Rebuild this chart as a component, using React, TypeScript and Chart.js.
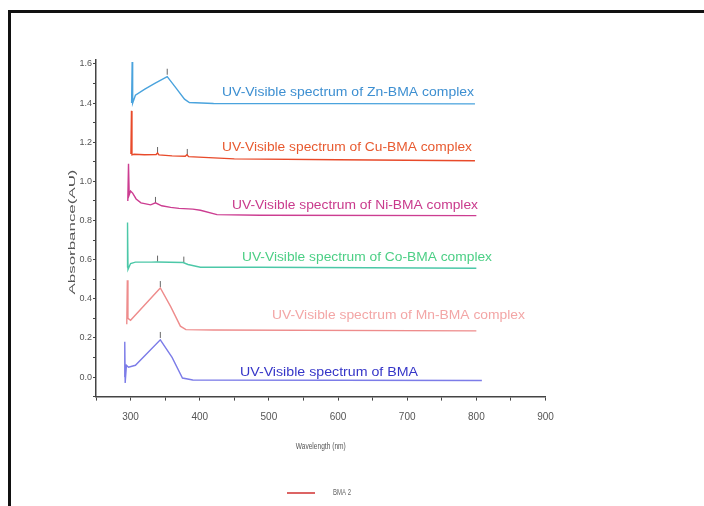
import React, { useEffect, useRef } from "react";
import { Chart, registerables } from "chart.js";

Chart.register(...registerables);

// ---- data (wavelength nm, absorbance AU) ----
const znWl = [301.5, 302.3, 303, 307, 320, 335, 353, 365, 378, 385, 420, 600, 798];
const znAbs = [1.4, 1.61, 1.4, 1.44, 1.47, 1.5, 1.535, 1.48, 1.42, 1.403, 1.398, 1.397, 1.396];

const cuWl = [300.5, 301.3, 302, 305, 320, 337, 339, 341, 360, 379, 381.5, 384, 450, 600, 798];
const cuAbs = [1.14, 1.36, 1.135, 1.138, 1.136, 1.137, 1.145, 1.135, 1.13, 1.128, 1.136, 1.126, 1.115, 1.11, 1.105];

const niWl = [296, 297, 298, 300, 303, 308, 315, 329, 336, 345, 358, 370, 390, 401, 425, 487, 800];
const niAbs = [0.9, 1.09, 0.93, 0.95, 0.94, 0.91, 0.89, 0.88, 0.89, 0.875, 0.867, 0.862, 0.858, 0.852, 0.83, 0.827, 0.825];

const coWl = [295, 295.6, 296.3, 300, 307, 330, 338, 376, 383, 401, 487, 800];
const coAbs = [0.56, 0.79, 0.55, 0.58, 0.587, 0.587, 0.588, 0.585, 0.575, 0.561, 0.561, 0.556];

const mnWl = [294.5, 295.3, 296.2, 300, 343, 358, 372, 380, 420, 800];
const mnAbs = [0.27, 0.495, 0.3, 0.29, 0.455, 0.36, 0.26, 0.242, 0.24, 0.236];

const bmaWl = [291, 291.6, 292.2, 294, 297, 307, 343, 360, 375, 390, 808];
const bmaAbs = [0.0, 0.18, -0.03, 0.06, 0.05, 0.06, 0.19, 0.1, -0.005, -0.015, -0.018];

const peakWl = [353, 339, 382, 336, 339, 377, 343, 343];
const peakAbs = [1.56, 1.16, 1.15, 0.905, 0.605, 0.6, 0.475, 0.215];

const seriesNames = ["Zn-BMA", "Cu-BMA", "Ni-BMA", "Co-BMA", "Mn-BMA", "BMA"];
const annotationTexts = [
  "UV-Visible spectrum of Zn-BMA complex",
  "UV-Visible spectrum of Cu-BMA complex",
  "UV-Visible spectrum of Ni-BMA complex",
  "UV-Visible spectrum of Co-BMA complex",
  "UV-Visible spectrum of Mn-BMA complex",
  "UV-Visible spectrum of BMA",
];
const xTitle = "Wavelength (nm)";
const yTitle = "Absorbance(AU)";
const legendLabel = "BMA 2";

// ---- styles / layout ----
const lineColors = ["#4aa3dd", "#e84a2a", "#cc3d91", "#4cc8a8", "#ee8c8c", "#7c7ce8"];
const textColors = ["#3d8fd1", "#e85a30", "#c93a8c", "#4ccf85", "#f3a6a6", "#3535c8"];
// [left x, center y, width]
const textBoxes = [
  [222, 93, 252],
  [222, 148, 250],
  [232, 206, 246],
  [242, 258, 250],
  [272, 316, 253],
  [240, 373, 178],
];
const TICK_FONT = "'Liberation Sans', Arial, sans-serif";

function toPts(xs: number[], ys: number[]) {
  return xs.map((x, i) => ({ x, y: ys[i] }));
}

function fitText(ctx: CanvasRenderingContext2D, text: string, x: number, y: number, width: number, font: string, color: string, align: "left" | "center" = "left", rot = 0) {
  ctx.save();
  ctx.font = font;
  ctx.fillStyle = color;
  ctx.textBaseline = "middle";
  ctx.textAlign = align;
  const w = ctx.measureText(text).width;
  ctx.translate(x, y);
  if (rot) ctx.rotate(rot);
  ctx.scale(width / w, 1);
  ctx.fillText(text, 0, 0);
  ctx.restore();
}

const overlayPlugin = {
  id: "overlay",
  afterDraw(chart: any) {
    const ctx = chart.ctx as CanvasRenderingContext2D;
    annotationTexts.forEach((t, i) => {
      const [x, y, w] = textBoxes[i];
      fitText(ctx, t, x, y, w, "12px 'Liberation Sans', Arial, sans-serif", textColors[i]);
    });
    const area = chart.chartArea;
    fitText(ctx, xTitle, (area.left + area.right) / 2, 447, 50, "9px 'Liberation Sans', Arial, sans-serif", "#555", "center");
    fitText(ctx, yTitle, 73, 232, 125, "9px 'Liberation Sans', Arial, sans-serif", "#555", "center", -Math.PI / 2);
    // legend
    ctx.save();
    ctx.strokeStyle = "#d03030";
    ctx.lineWidth = 1.5;
    ctx.beginPath();
    ctx.moveTo(287, 493);
    ctx.lineTo(315, 493);
    ctx.stroke();
    ctx.restore();
    fitText(ctx, legendLabel, 333, 493, 18, "9px 'Liberation Sans', Arial, sans-serif", "#666");
  },
};

export default function App() {
  const ref = useRef<HTMLCanvasElement | null>(null);

  useEffect(() => {
    if (!ref.current) return;
    const seriesData = [
      toPts(znWl, znAbs),
      toPts(cuWl, cuAbs),
      toPts(niWl, niAbs),
      toPts(coWl, coAbs),
      toPts(mnWl, mnAbs),
      toPts(bmaWl, bmaAbs),
    ];
    const datasets: any[] = seriesData.map((d, i) => ({
      label: seriesNames[i],
      data: d,
      showLine: true,
      borderColor: lineColors[i],
      backgroundColor: lineColors[i],
      borderWidth: 1.4,
      pointRadius: 0,
      tension: 0,
    }));
    datasets.push({
      label: "peaks",
      data: toPts(peakWl, peakAbs),
      showLine: false,
      pointStyle: "line",
      rotation: 90,
      pointRadius: 3,
      borderColor: "#666",
      borderWidth: 1,
    });

    const chart = new Chart(ref.current, {
      type: "scatter",
      data: { datasets },
      options: {
        animation: false,
        responsive: false,
        layout: { padding: { top: 60, right: 158.5, bottom: 49.4, left: 0 } },
        plugins: { legend: { display: false }, tooltip: { enabled: false } },
        scales: {
          x: {
            type: "linear",
            min: 250,
            max: 900,
            afterFit: (s: any) => {
              s.height = 60;
            },
            border: { display: true, color: "#444", width: 1.5 },
            grid: { drawOnChartArea: false, drawTicks: true, tickLength: 4, color: "#444" },
            ticks: {
              stepSize: 50,
              autoSkip: false,
              includeBounds: false,
              maxRotation: 0,
              padding: 11,
              color: "#555",
              font: { family: TICK_FONT, size: 10 },
              callback: (v: any) => (Number(v) >= 300 && Number(v) % 100 === 0 ? String(v) : ""),
            },
            title: { display: false },
          },
          y: {
            type: "linear",
            min: -0.1,
            max: 1.62,
            afterFit: (s: any) => {
              s.width = 96;
            },
            border: { display: true, color: "#444", width: 1.5 },
            grid: { drawOnChartArea: false, drawTicks: true, tickLength: 3, color: "#444" },
            ticks: {
              stepSize: 0.1,
              autoSkip: false,
              includeBounds: false,
              padding: 1,
              color: "#555",
              font: { family: TICK_FONT, size: 9 },
              callback: (v: any) => {
                const n = Number(v);
                return Math.abs(n * 5 - Math.round(n * 5)) < 1e-6 && n >= -1e-9 ? n.toFixed(1) : "";
              },
            },
            title: { display: false },
          },
        },
      },
      plugins: [overlayPlugin],
    });
    return () => chart.destroy();
  }, []);

  return (
    <>
      <canvas
        ref={ref}
        width={704}
        height={506}
        style={{ position: "fixed", left: 0, top: 0, width: 704, height: 506 }}
      />
      <div
        style={{
          position: "fixed",
          left: 8,
          top: 10,
          right: 0,
          bottom: 0,
          borderTop: "3px solid #111",
          borderLeft: "3px solid #111",
          pointerEvents: "none",
        }}
      />
    </>
  );
}
